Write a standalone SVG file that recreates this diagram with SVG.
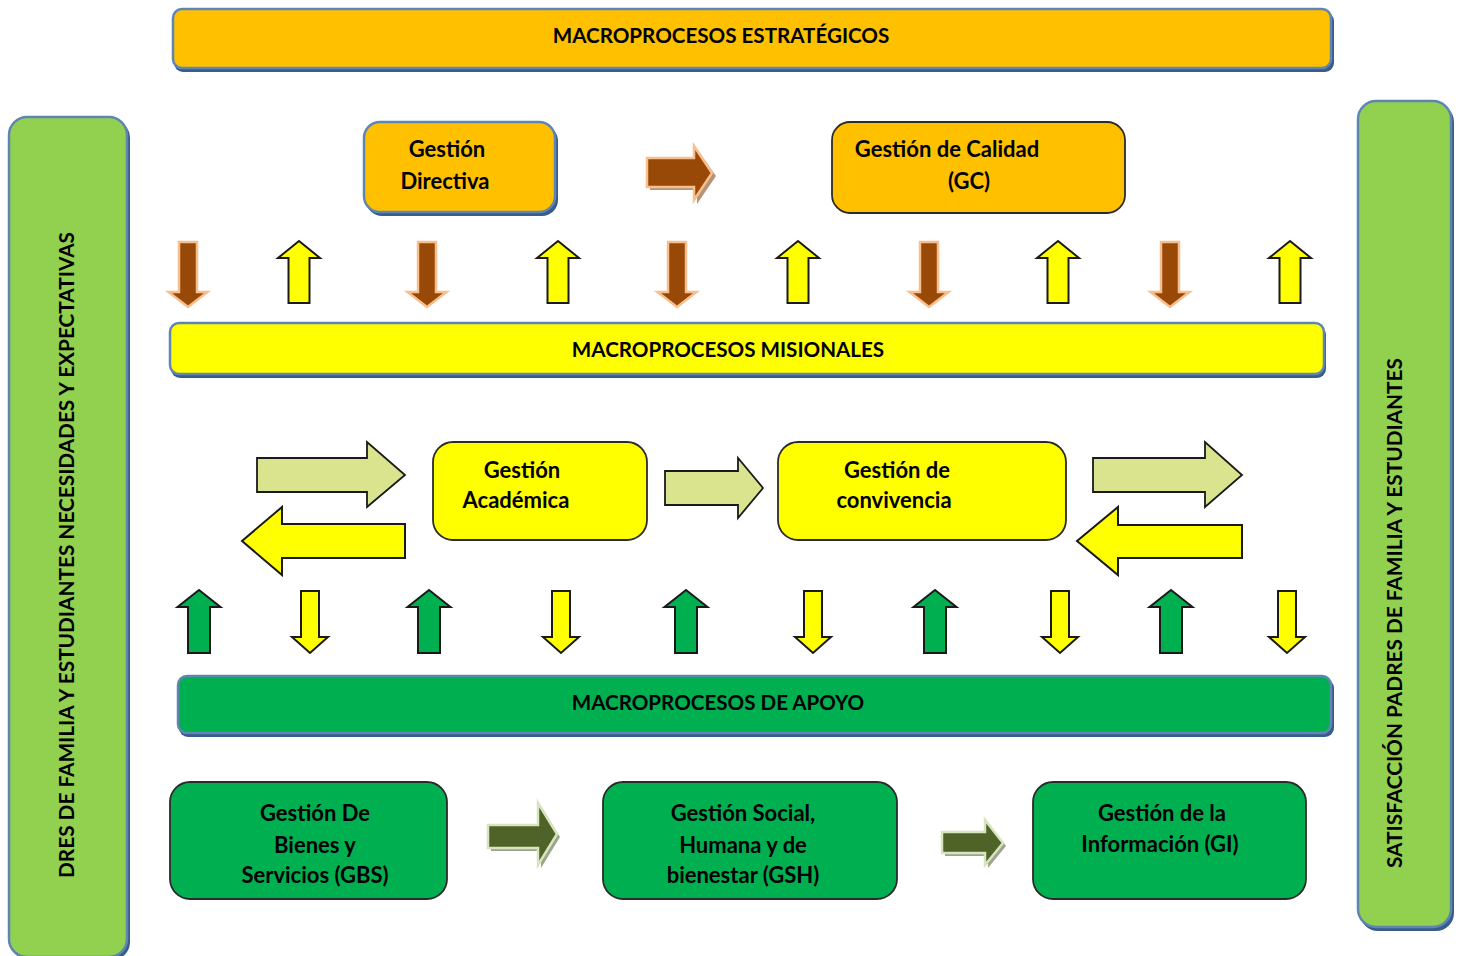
<svg xmlns="http://www.w3.org/2000/svg" width="1459" height="956" viewBox="0 0 1459 956">
<style>
  text { font-family: Lato, "Open Sans", "Liberation Sans", sans-serif; font-weight: 700; fill: #000; text-anchor: middle; }
  .t20 { font-size: 20.6px; }
  .t22 { font-size: 22px; }
  .bar { stroke: #5F86B3; stroke-width: 2.5; }
  .barsh { fill: #385D8A; }
  .box { stroke: #2b2b2b; stroke-width: 1.8; }
  .brown { fill: #984807; stroke: #F8BF8E; stroke-width: 2.5; }
  .brownsh { fill: #7a3a06; opacity: 0.55; }
  .yel { fill: #FFFF00; stroke: #1a1a1a; stroke-width: 2; }
  .grn { fill: #00B050; stroke: #1a1a1a; stroke-width: 2; }
  .lg { fill: #DAE48F; stroke: #1a1a1a; stroke-width: 1.8; }
  .olive { fill: #4F6228; stroke: #D7E4BD; stroke-width: 2.5; }
  .olivesh { fill: #3a4a1d; opacity: 0.5; }
</style>
<defs>
  <path id="upY" d="M0,0 L21,17 L10.5,17 L10.5,62 L-10.5,62 L-10.5,17 L-21,17 Z"/>
  <path id="downB" d="M-9,0 L9,0 L9,50 L19.5,50 L0,65 L-19.5,50 L-9,50 Z"/>
  <path id="upG" d="M0,0 L21.5,17 L11,17 L11,63 L-11,63 L-11,17 L-21.5,17 Z"/>
  <path id="downY" d="M-9,0 L9,0 L9,46 L18,46 L0,62 L-18,46 L-9,46 Z"/>
</defs>
<rect width="1459" height="956" fill="#ffffff"/>

<!-- side bars -->
<g id="side-left">
  <rect class="barsh" x="11" y="120" width="119" height="840" rx="18"/>
  <rect class="bar" x="9" y="117" width="118" height="840" rx="18" fill="#92D050"/>
  <text class="t20" transform="translate(74,555) rotate(-90)" textLength="646" lengthAdjust="spacingAndGlyphs">DRES DE FAMILIA Y ESTUDIANTES NECESIDADES Y EXPECTATIVAS</text>
</g>
<g id="side-right">
  <rect class="barsh" x="1360" y="104" width="94" height="827" rx="18"/>
  <rect class="bar" x="1358" y="101" width="93" height="826" rx="18" fill="#92D050"/>
  <text class="t20" transform="translate(1402,613) rotate(-90)" textLength="510" lengthAdjust="spacingAndGlyphs">SATISFACCIÓN PADRES DE FAMILIA Y ESTUDIANTES</text>
</g>

<!-- horizontal bars -->
<g id="bar-estrategicos">
  <rect class="barsh" x="174" y="12" width="1160" height="60" rx="9"/>
  <rect class="bar" x="173" y="9" width="1158" height="59" rx="9" fill="#FFC000"/>
  <text class="t20" x="721" y="43">MACROPROCESOS ESTRATÉGICOS</text>
</g>
<g id="bar-misionales">
  <rect class="barsh" x="171" y="326" width="1155" height="52" rx="9"/>
  <rect class="bar" x="170" y="323" width="1154" height="51" rx="9" fill="#FFFF00"/>
  <text class="t20" x="728" y="357">MACROPROCESOS MISIONALES</text>
</g>
<g id="bar-apoyo">
  <rect class="barsh" x="179" y="679" width="1155" height="58" rx="9"/>
  <rect class="bar" x="178" y="676" width="1153" height="57" rx="9" fill="#00B050"/>
  <text class="t20" x="718" y="710">MACROPROCESOS DE APOYO</text>
</g>

<!-- estrategicos nodes -->
<g id="gestion-directiva">
  <rect class="barsh" x="366" y="125" width="192" height="91" rx="16"/>
  <rect class="bar" x="364" y="122" width="191" height="90" rx="16" fill="#FFC000"/>
  <text class="t22" x="447" y="157">Gestión</text>
  <text class="t22" x="445" y="189">Directiva</text>
</g>
<g id="gestion-calidad">
  <rect class="box" x="832" y="122" width="293" height="91" rx="18" fill="#FFC000"/>
  <text class="t22" x="947" y="157">Gestión de Calidad</text>
  <text class="t22" x="969" y="189">(GC)</text>
</g>

<!-- misionales nodes -->
<g id="gestion-academica">
  <rect class="box" x="433" y="442" width="214" height="98" rx="20" fill="#FFFF00"/>
  <text class="t22" x="522" y="478">Gestión</text>
  <text class="t22" x="516" y="508">Académica</text>
</g>
<g id="gestion-convivencia">
  <rect class="box" x="778" y="442" width="288" height="98" rx="20" fill="#FFFF00"/>
  <text class="t22" x="897" y="478">Gestión de</text>
  <text class="t22" x="894" y="508">convivencia</text>
</g>

<!-- apoyo nodes -->
<g id="gestion-gbs">
  <rect class="box" x="170" y="782" width="277" height="117" rx="20" fill="#00B050"/>
  <text class="t22" x="315" y="821">Gestión De</text>
  <text class="t22" x="315" y="853">Bienes y</text>
  <text class="t22" x="315" y="883">Servicios (GBS)</text>
</g>
<g id="gestion-gsh">
  <rect class="box" x="603" y="782" width="294" height="117" rx="20" fill="#00B050"/>
  <text class="t22" x="743" y="821">Gestión Social,</text>
  <text class="t22" x="743" y="853">Humana y de</text>
  <text class="t22" x="743" y="883">bienestar (GSH)</text>
</g>
<g id="gestion-gi">
  <rect class="box" x="1033" y="782" width="273" height="117" rx="20" fill="#00B050"/>
  <text class="t22" x="1162" y="821">Gestión de la</text>
  <text class="t22" x="1160" y="852">Información (GI)</text>
</g>

<!-- connectors -->
<g id="connectors">
  <!-- top brown right arrow -->
  <path class="brownsh" d="M650,161 L697,161 L697,149 L716,176 L697,204 L697,190 L650,190 Z"/>
  <path class="brown" d="M647,158 L694,158 L694,146 L712,173 L694,200 L694,187 L647,187 Z"/>

  <!-- brown down arrows -->
  <g class="brown">
    <use href="#downB" x="188" y="242"/>
    <use href="#downB" x="427" y="242"/>
    <use href="#downB" x="677" y="242"/>
    <use href="#downB" x="929" y="242"/>
    <use href="#downB" x="1170" y="242"/>
  </g>
  <!-- yellow up arrows -->
  <g class="yel">
    <use href="#upY" x="299" y="241"/>
    <use href="#upY" x="558" y="241"/>
    <use href="#upY" x="798" y="241"/>
    <use href="#upY" x="1058" y="241"/>
    <use href="#upY" x="1290" y="241"/>
  </g>

  <!-- middle horizontal arrows -->
  <path class="lg" d="M257,458 L367,458 L367,442 L405,475 L367,507 L367,492 L257,492 Z"/>
  <path class="yel" d="M405,524 L282,524 L282,507 L242,541 L282,575 L282,558 L405,558 Z"/>
  <path class="lg" d="M665,471 L738,471 L738,458 L763,488 L738,518 L738,505 L665,505 Z"/>
  <path class="lg" d="M1093,458 L1205,458 L1205,442 L1242,475 L1205,507 L1205,492 L1093,492 Z"/>
  <path class="yel" d="M1242,525 L1118,525 L1118,507 L1077,541 L1118,575 L1118,558 L1242,558 Z"/>

  <!-- green up arrows -->
  <g class="grn">
    <use href="#upG" x="199" y="590"/>
    <use href="#upG" x="429" y="590"/>
    <use href="#upG" x="686" y="590"/>
    <use href="#upG" x="935" y="590"/>
    <use href="#upG" x="1171" y="590"/>
  </g>
  <!-- yellow down arrows -->
  <g class="yel">
    <use href="#downY" x="310" y="591"/>
    <use href="#downY" x="561" y="591"/>
    <use href="#downY" x="813" y="591"/>
    <use href="#downY" x="1060" y="591"/>
    <use href="#downY" x="1287" y="591"/>
  </g>

  <!-- bottom olive arrows -->
  <path class="olivesh" d="M491,828 L541,828 L541,806 L560,837 L541,868 L541,851 L491,851 Z"/>
  <path class="olive" d="M488,825 L538,825 L538,803 L557,834 L538,865 L538,848 L488,848 Z"/>
  <path class="olivesh" d="M945,835 L988,835 L988,823 L1006,846 L988,868 L988,856 L945,856 Z"/>
  <path class="olive" d="M942,832 L985,832 L985,820 L1003,843 L985,865 L985,853 L942,853 Z"/>
</g>
</svg>
